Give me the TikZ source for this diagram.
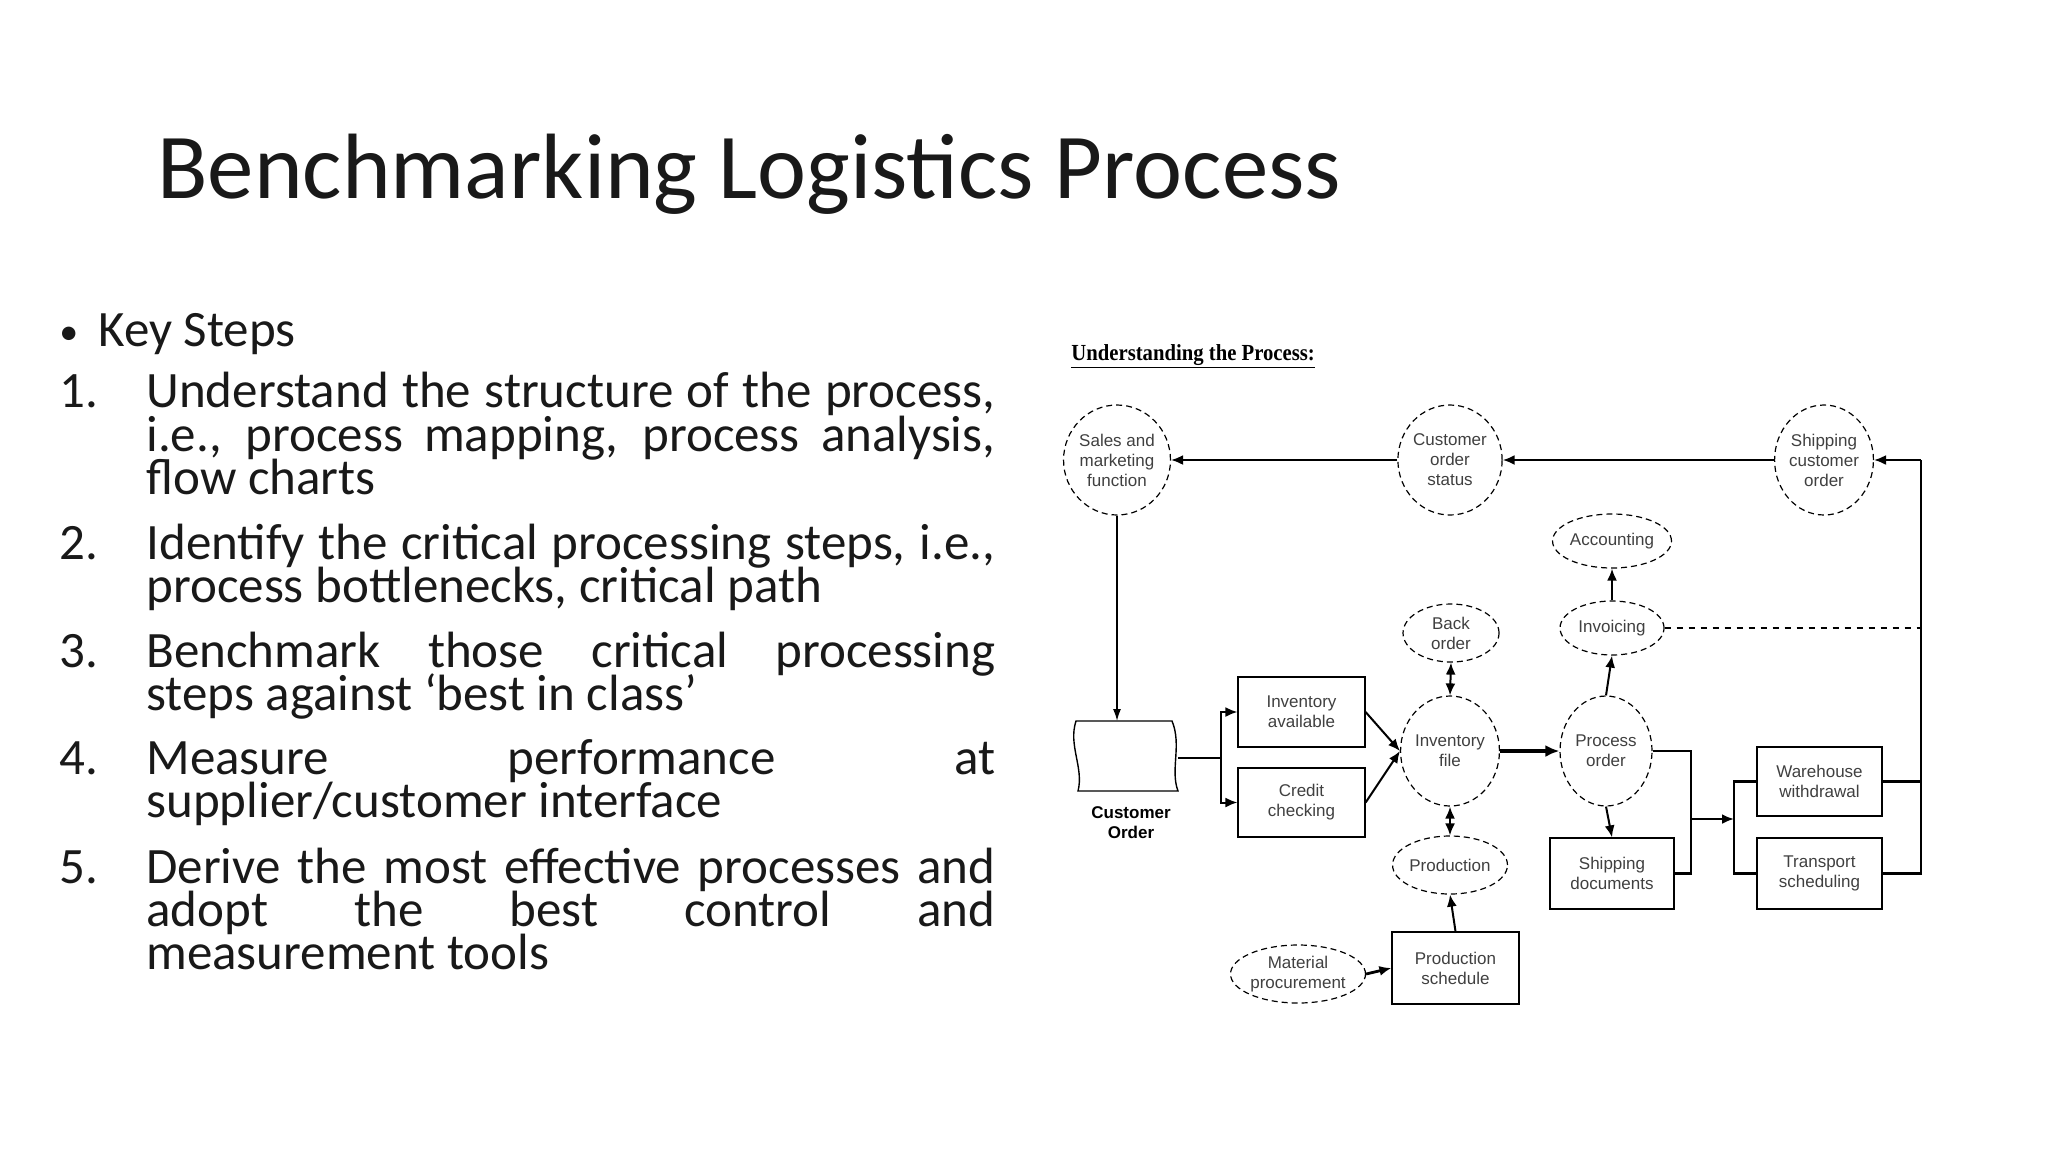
\documentclass[tikz,border=0pt]{standalone}
\usepackage{fontspec}
\setmainfont{Carlito}
\newfontfamily\diag{Liberation Sans}
\newfontfamily\hd{Liberation Serif}
\usetikzlibrary{shapes.geometric,arrows.meta}
\tikzset{
 tx/.style={anchor=base west,inner sep=0pt,font=\fontsize{25.5}{25.5}\selectfont,text=black!90},
 el/.style={ellipse,draw,densely dashed,line width=0.6pt,inner sep=0pt,font=\diag\fontsize{8.5}{10}\selectfont,align=center,text=black!75},
 bx/.style={rectangle,draw,line width=0.6pt,inner sep=0pt,font=\diag\fontsize{8.5}{10}\selectfont,align=center,text=black!75},
 ln/.style={line width=1pt},
 ar/.style={line width=1pt,-{Latex[length=6pt,width=5pt]}},
 dar/.style={line width=1pt,{Latex[length=6pt,width=5pt]}-{Latex[length=6pt,width=5pt]}},
}
\newcommand{\jl}[1]{\makebox[424.5pt][s]{#1}}
\begin{document}
\begin{tikzpicture}[x=0.5pt,y=-0.5pt]
\path[use as bounding box,fill=white] (0,0) rectangle (2048,1152);
\node[anchor=base west,inner sep=0pt,font=\fontsize{46.4}{46}\selectfont,text=black!90] (title) at (157,198) {Benchmarking Logistics Process};
% body
\node[tx,font=\fontsize{19}{19}\selectfont] (b0) at (59,344) {•};
\node[tx] (t0) at (98,346) {Key Steps};
\node[tx] (n1) at (59,407) {1.};
\node[tx] (l1a) at (146,407) {\jl{Understand the structure of the process,}};
\node[tx] (l1b) at (146,451) {\jl{i.e., process mapping, process analysis,}};
\node[tx] (l1c) at (146,494) {flow charts};
\node[tx] (n2) at (59,559) {2.};
\node[tx] (l2a) at (146,559) {\jl{Identify the critical processing steps, i.e.,}};
\node[tx] (l2b) at (146,602) {process bottlenecks, critical path};
\node[tx] (n3) at (59,667) {3.};
\node[tx] (l3a) at (146,667) {\jl{Benchmark those critical processing}};
\node[tx] (l3b) at (146,710) {steps against ‘best in class’};
\node[tx] (n4) at (59,774) {4.};
\node[tx] (l4a) at (146,774) {\jl{Measure performance at}};
\node[tx] (l4b) at (146,817) {supplier/customer interface};
\node[tx] (n5) at (59,883) {5.};
\node[tx] (l5a) at (146,883) {\jl{Derive the most effective processes and}};
\node[tx] (l5b) at (146,926) {\jl{adopt the best control and}};
\node[tx] (l5c) at (146,969) {measurement tools};
% diagram
\node[anchor=base west,inner sep=0pt,font=\hd\bfseries\fontsize{11.5}{12}\selectfont] (hd) at (1071,360) {\underline{\scalebox{0.9}[1]{Understanding the Process:}}};
\node[el,minimum width=42pt,minimum height=55pt] (sales) at (1117,460) {Sales and\\marketing\\function};
\node[el,minimum width=42pt,minimum height=55pt] (cos) at (1450,460) {Customer\\order\\status};
\node[el,minimum width=42pt,minimum height=55pt] (sco) at (1824,460) {Shipping\\customer\\order};
\node[el,minimum width=52pt,minimum height=27pt] (acc) at (1612,541) {Accounting};
\node[el,minimum width=52pt,minimum height=27pt] (inv) at (1612,628) {Invoicing};
\node[el,minimum width=48pt,minimum height=29pt] (back) at (1451,633) {Back\\order};
\node[el,minimum width=46pt,minimum height=55pt] (ifile) at (1450,751) {Inventory\\file};
\node[el,minimum width=46pt,minimum height=55pt] (porder) at (1606,751) {Process\\order};
\node[el,minimum width=48pt,minimum height=29pt] (prod) at (1450,865) {Production};
\node[el,minimum width=63pt,minimum height=29pt] (mat) at (1298,974) {Material\\procurement};
\node[bx,minimum width=63.5pt,minimum height=35pt] (iav) at (1301.5,712) {Inventory\\available};
\node[bx,minimum width=63.5pt,minimum height=34.5pt] (cc) at (1301.5,802.5) {Credit\\checking};
\node[bx,minimum width=62pt,minimum height=35.5pt] (sd) at (1612,873.5) {Shipping\\documents};
\node[bx,minimum width=62.5pt,minimum height=34.5pt] (ww) at (1819.5,781.5) {Warehouse\\withdrawal};
\node[bx,minimum width=62.5pt,minimum height=35.5pt] (ts) at (1819.5,873.5) {Transport\\scheduling};
\node[bx,minimum width=63.5pt,minimum height=36pt] (ps) at (1455.5,968) {Production\\schedule};
% customer order shape
\draw[line width=0.7pt] (1076,721) -- (1172,721) .. controls (1182,745) and (1170,770) .. (1178,791) -- (1078,791) .. controls (1084,768) and (1068,745) .. (1076,721) -- cycle;
\coordinate (coR) at (1178,758);
\node[inner sep=0pt,font=\diag\bfseries\fontsize{8.5}{10}\selectfont,align=center] (col) at (1131,823) {Customer\\Order};
% connectors
\draw[ar] (sco.west) -- (cos.east);
\draw[ar] (cos.west) -- (sales.east);
\coordinate (coT) at (1117,721);
\draw[line width=0.8pt,-{Latex[length=6pt,width=4pt]}] (sales.south) -- (coT);
\draw[ln] (coR) -- (1221,758);
\draw[ar] (1221,758) |- (iav.west);
\draw[ar] (1221,758) |- (cc.west);
\draw[ar] (iav.east) -- (ifile.west);
\draw[ar] (cc.east) -- (ifile.west);
\draw[dar] (back.south) -- (ifile.north);
\draw[dar] (prod.north) -- (ifile.south);
\draw[ar] (ps.north) -- (prod.south);
\draw[line width=1.4pt,-{Latex[length=6pt,width=5pt]}] (mat.east) -- (ps.west);
\draw[line width=1.8pt,-{Latex[length=7pt,width=6pt]}] (ifile.east) -- (porder.west);
\draw[ar] (porder.north) -- (inv.south);
\draw[ar] (inv.north) -- (acc.south);
\draw[ar] (porder.south) -- (sd.north);
\draw[line width=1.4pt] (porder.east) -- (1691,751) -- (1691,873.5) -- (sd.east);
\coordinate (br) at (1734,819);
\draw[line width=1.4pt,-{Latex[length=6pt,width=5pt]}] (1691,819) -- (br);
\draw[line width=1.4pt] (ww.west) -- (1734,781.5) -- (1734,873.5) -- (ts.west);
\draw[line width=1.4pt] (ww.east) -- (1921,781.5);
\draw[line width=1.4pt] (ts.east) -- (1921,873.5) -- (1921,460);
\draw[ar] (1921,460) -- (sco.east);
\draw[line width=1.2pt,dashed] (inv.east) -- (1921,628);
\end{tikzpicture}
\end{document}
